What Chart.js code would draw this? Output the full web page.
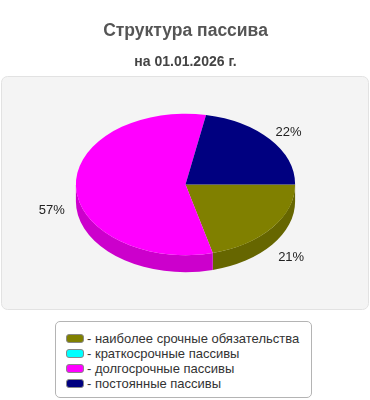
<!DOCTYPE html>
<html>
<head>
<meta charset="utf-8">
<script src="https://cdn.jsdelivr.net/npm/chart.js@4.4.1/dist/chart.umd.min.js"></script>
<style>
  body { margin: 0; background: #fff; }
  #wrap { position: relative; width: 370px; height: 400px; }
  #legend {
    position: absolute; left: 55px; top: 321px; width: 245px; height: 66px;
    border: 1px solid #b4b4b4; border-radius: 5px; background: #fff;
    padding: 9px 0 0 10px; box-sizing: content-box;
    font: 13px "Liberation Sans", Arial, sans-serif; color: #333;
  }
  #legend div { height: 15px; line-height: 15px; white-space: nowrap; }
  #legend span {
    display: inline-block; width: 16px; height: 7px; border: 1px solid #888;
    border-radius: 3px; margin-right: 3px; vertical-align: 0px;
  }
</style>
</head>
<body>
<div id="wrap">
  <canvas id="pie" width="370" height="400"></canvas>
  <div id="legend"></div>
</div>
<script>
let categories = ["наиболее срочные обязательства", "краткосрочные пассивы", "долгосрочные пассивы", "постоянные пассивы"];
let values = [21, 0, 57, 22];
let colors = ["#808000", "#00ffff", "#ff00ff", "#000080"];
let sideColors = ["#666600", "#00cccc", "#cc00cc", "#000066"];

const squash = 71 / 110;
const depth = 17;

// grey rounded panel behind the pie
const panel = {
    id: 'panel',
    beforeDraw(chart) {
        let ctx = chart.ctx;
        ctx.save();
        ctx.beginPath();
        ctx.roundRect(1.5, 76.5, 367, 233, 6);
        ctx.fillStyle = "#f4f4f4";
        ctx.fill();
        ctx.strokeStyle = "#e2e2e2";
        ctx.lineWidth = 1;
        ctx.stroke();
        ctx.restore();
    }
};

// fake 3d: draw the side walls, then squash the pie into an ellipse
const tilt = {
    id: 'tilt',
    beforeDatasetsDraw(chart) {
        let ctx = chart.ctx;
        let arcs = chart.getDatasetMeta(0).data;
        let cx = arcs[0].x, cy = arcs[0].y, rx = arcs[0].outerRadius, ry = rx * squash;
        arcs.forEach(function (a, i) {
            let s = Math.max(a.startAngle, 0);
            let e = Math.min(a.endAngle, Math.PI);
            if (e <= s) return;
            ctx.beginPath();
            ctx.ellipse(cx, cy, rx, ry, 0, s, e, false);
            ctx.ellipse(cx, cy + depth, rx, ry, 0, e, s, true);
            ctx.closePath();
            ctx.fillStyle = sideColors[i];
            ctx.fill();
        });
        ctx.save();
        ctx.translate(cx, cy);
        ctx.scale(1, squash);
        ctx.translate(-cx, -cy);
    },
    afterDatasetsDraw(chart) {
        let ctx = chart.ctx;
        ctx.restore();
        let arcs = chart.getDatasetMeta(0).data;
        let cx = arcs[0].x, cy = arcs[0].y, rx = arcs[0].outerRadius, ry = rx * squash;
        ctx.save();
        ctx.font = '13px "Liberation Sans", Arial, sans-serif';
        ctx.fillStyle = "#222";
        ctx.textAlign = "center";
        ctx.textBaseline = "middle";
        arcs.forEach(function (a, i) {
            if (!values[i]) return;
            let m = (a.startAngle + a.endAngle) / 2;
            let x = cx + 1.22 * rx * Math.cos(m);
            let y = cy + 1.2 * ry * Math.sin(m);
            if (Math.sin(m) > 0) y += depth + 6 - 4 * Math.sin(m);
            else y += 2;
            ctx.fillText(values[i] + "%", x, y);
        });
        ctx.restore();
    }
};

new Chart(document.getElementById("pie"), {
    type: 'pie',
    data: {
        labels: categories,
        datasets: [{
            data: values,
            backgroundColor: colors,
            borderWidth: 0
        }]
    },
    options: {
        responsive: false,
        animation: false,
        rotation: 90,
        layout: { padding: { top: 6, bottom: 106, left: 1, right: 0 } },
        plugins: {
            legend: { display: false },
            tooltip: { enabled: false },
            title: {
                display: true,
                text: "Структура пассива",
                color: "#555",
                font: { family: '"Liberation Sans", Arial, sans-serif', size: 17.5, weight: 'bold' },
                padding: { top: 15, bottom: 12 }
            },
            subtitle: {
                display: true,
                text: "на 01.01.2026 г.",
                color: "#444",
                font: { family: '"Liberation Sans", Arial, sans-serif', size: 14, weight: 'bold' },
                padding: { top: 0, bottom: 4 }
            }
        }
    },
    plugins: [panel, tilt]
});

let legend = document.getElementById("legend");
categories.forEach(function (c, i) {
    let row = document.createElement("div");
    row.innerHTML = '<span style="background:' + colors[i] + '"></span>- ' + c;
    legend.appendChild(row);
});
</script>
</body>
</html>
